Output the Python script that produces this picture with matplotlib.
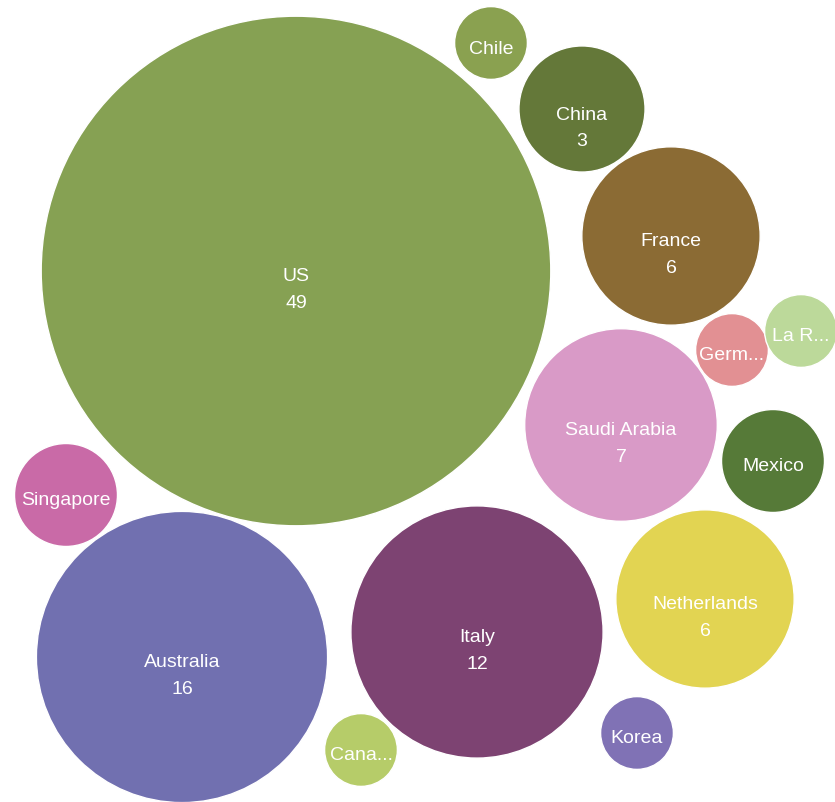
import matplotlib
matplotlib.use("Agg")
import matplotlib.pyplot as plt
from matplotlib.patches import Circle
import numpy as np

# Data
countries = ["US", "Chile", "China", "France", "Germ...", "La R...", "Saudi Arabia",
             "Mexico", "Singapore", "Netherlands", "Australia", "Italy", "Cana...", "Korea"]
values = [49, 1, 3, 6, 1, 1, 7, 2, 2, 6, 16, 12, 1, 1]

# Packed layout: bubble centres in pixel space
centers_x = [296, 491, 582, 671, 732, 801, 621, 773, 66, 705, 182, 477, 361, 637]
centers_y = [272, 44, 110, 237, 351, 332, 426, 462, 496, 600, 658, 633, 751, 734]

colors = ["#86a153", "#8aa150", "#647839", "#8b6b34", "#e29093", "#bcd99a", "#d99ac7",
          "#567a38", "#c96aa7", "#e2d452", "#7170b0", "#7d4372", "#b6cc69", "#8072b5"]

W, H = 835, 803
fig = plt.figure(figsize=(W / 100, H / 100), dpi=100)
ax = fig.add_axes([0, 0, 1, 1])
ax.set_xlim(0, W)
ax.set_ylim(H, 0)
ax.set_aspect("equal")
ax.axis("off")

font = ["Liberation Sans", "DejaVu Sans"]
k = 36.4  # radius per sqrt(value)
for name, v, cx, cy, c in zip(countries, values, centers_x, centers_y, colors):
    r = k * np.sqrt(v)
    ax.add_patch(Circle((cx, cy), r, facecolor=c, edgecolor="white", linewidth=1))
    ax.text(cx, cy + 5, name, ha="center", va="center", color="white",
            fontsize=14, family=font)
    if v >= 3:
        ax.text(cx, cy + 32, str(v), ha="center", va="center", color="white",
                fontsize=14, family=font)

fig.savefig("out.png", dpi=100, facecolor="white")
